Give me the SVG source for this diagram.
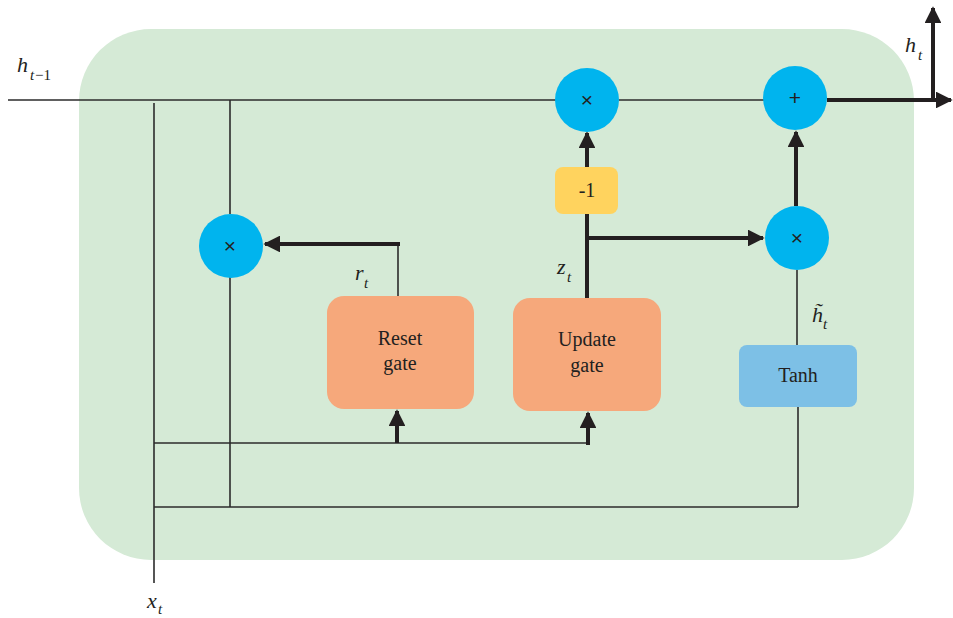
<svg xmlns="http://www.w3.org/2000/svg" width="953" height="618" viewBox="0 0 953 618">
<style>
.thin{stroke:#2b2b2b;stroke-width:1.6;fill:none}
.thick{stroke:#231f20;stroke-width:4;fill:none}
.op{fill:#00b4ee}
.gate{fill:#f6a87b}
.lbl{font-family:"Liberation Serif",serif;font-size:20px;fill:#231f20;text-anchor:middle}
.sym{font-family:"Liberation Sans",sans-serif;font-size:21px;fill:#231f20;text-anchor:middle}
.math{font-family:"Liberation Serif",serif;font-style:italic;font-size:22px;fill:#231f20}
.sub{font-family:"Liberation Serif",serif;font-style:italic;font-size:15px;fill:#231f20}
.subn{font-family:"Liberation Serif",serif;font-size:15px;fill:#231f20}
</style>
<defs>
<marker id="ah" viewBox="0 0 10 10" refX="9" refY="5" markerWidth="4.2" markerHeight="4.2" orient="auto" markerUnits="strokeWidth">
<path d="M0,0 L10,5 L0,10 z" fill="#231f20"/>
</marker>
</defs>
<rect id="cell" x="79" y="29" width="835" height="531" rx="72" ry="72" fill="#d5ead6"/>
<g id="connectors">
<line class="thin" x1="8" y1="100" x2="556" y2="100"/>
<line class="thin" x1="619" y1="100" x2="764" y2="100"/>
<line class="thick" x1="827" y1="100" x2="951" y2="100" marker-end="url(#ah)"/>
<line class="thick" x1="933" y1="100" x2="933" y2="8" marker-end="url(#ah)"/>
<line class="thin" x1="154" y1="103" x2="154" y2="583"/>
<line class="thin" x1="230" y1="100" x2="230" y2="214"/>
<line class="thin" x1="230" y1="277" x2="230" y2="507"/>
<line class="thin" x1="154" y1="443" x2="588" y2="443"/>
<line class="thin" x1="154" y1="507" x2="798" y2="507"/>
<line class="thin" x1="798" y1="407" x2="798" y2="507"/>
<line class="thick" x1="397" y1="443" x2="397" y2="411" marker-end="url(#ah)"/>
<line class="thick" x1="588" y1="445" x2="588" y2="413" marker-end="url(#ah)"/>
<line class="thin" x1="398" y1="296" x2="398" y2="244"/>
<line class="thick" x1="400" y1="244" x2="265" y2="244" marker-end="url(#ah)"/>
<line class="thick" x1="587" y1="298" x2="587" y2="214"/>
<line class="thick" x1="587" y1="167" x2="587" y2="133" marker-end="url(#ah)"/>
<line class="thick" x1="587" y1="238" x2="763" y2="238" marker-end="url(#ah)"/>
<line class="thin" x1="797" y1="345" x2="797" y2="270"/>
<line class="thick" x1="796" y1="206" x2="796" y2="132" marker-end="url(#ah)"/>
</g>
<g id="mul_top"><circle class="op" cx="587" cy="100" r="32"/><text class="sym" x="587" y="107">×</text></g>
<g id="add_top"><circle class="op" cx="795" cy="98" r="32"/><text class="sym" x="795" y="105">+</text></g>
<g id="mul_right"><circle class="op" cx="797" cy="238" r="32"/><text class="sym" x="797" y="245">×</text></g>
<g id="mul_left"><circle class="op" cx="231" cy="246" r="32"/><text class="sym" x="230" y="253">×</text></g>
<g id="neg1"><rect x="555" y="167" width="63" height="47" rx="8" fill="#ffd35e"/><text class="lbl" x="587" y="197">-1</text></g>
<g id="reset_gate"><rect class="gate" x="327" y="296" width="147" height="113" rx="17"/><text class="lbl" x="400" y="345">Reset</text><text class="lbl" x="400" y="370">gate</text></g>
<g id="update_gate"><rect class="gate" x="513" y="298" width="148" height="113" rx="17"/><text class="lbl" x="587" y="346">Update</text><text class="lbl" x="587" y="372">gate</text></g>
<g id="tanh"><rect x="739" y="345" width="118" height="62" rx="8" fill="#7dc0e6"/><text class="lbl" x="798" y="382">Tanh</text></g>
<g id="labels">
<text class="math" x="17" y="72">h</text><text class="sub" x="30" y="80">t</text><text class="subn" x="35" y="80">−1</text>
<text class="math" x="905" y="52">h</text><text class="sub" x="918" y="60">t</text>
<text class="math" x="147" y="608">x</text><text class="sub" x="158" y="614">t</text>
<text class="math" x="355" y="280">r</text><text class="sub" x="364" y="288">t</text>
<text class="math" x="557" y="274">z</text><text class="sub" x="567" y="282">t</text>
<text class="math" x="812" y="322">h&#x303;</text><text class="sub" x="823" y="329">t</text>
</g>
</svg>
